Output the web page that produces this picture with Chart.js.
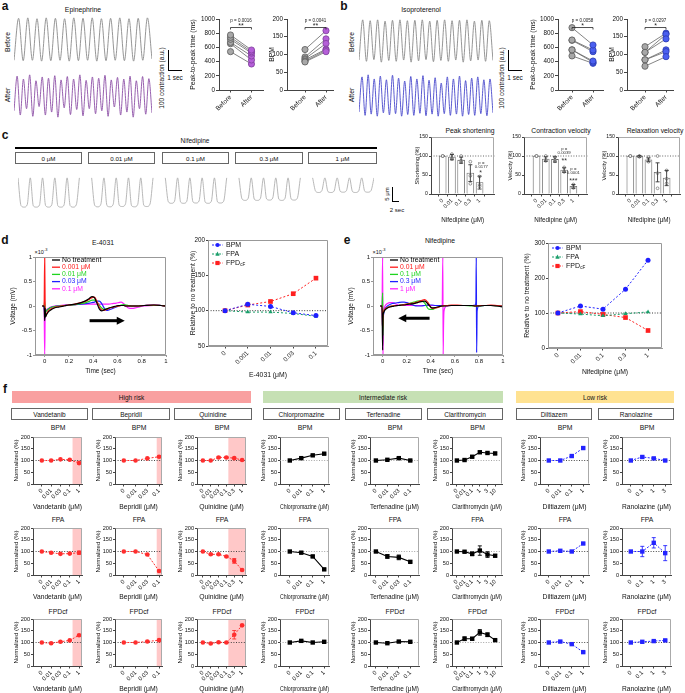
<!DOCTYPE html>
<html>
<head>
<meta charset="utf-8">
<script src="https://cdn.jsdelivr.net/npm/chart.js@4.4.0/dist/chart.umd.min.js"></script>
<style>
  body { margin: 0; width: 685px; height: 693px; position: relative; overflow: hidden; background: #fff; font-family: 'Liberation Sans', Arial, sans-serif; }
  .t { position: absolute; white-space: nowrap; color: #111; line-height: 1; }
  .blk { position: absolute; box-sizing: border-box; }
  canvas { position: absolute; }
</style>
</head>
<body>
<script>
// ---- panel a / b : contraction traces (normalised amplitude, one value per half beat) ----
const epiBeforeTrace = [0.02, 0.99, 0.01, 1.0, 0.02, 0.98, 0.0, 1.0, 0.01, 0.99, 0.02, 0.98, 0.0, 1.0, 0.01, 0.99, 0.02, 1.0, 0.0, 0.98, 0.01, 0.99, 0.02, 1.0, 0.01, 0.98, 0.0, 0.99, 0.02, 1.0, 0.05];
const epiAfterTrace = [0.15, 0.97, 0.05, 0.9, 0.2, 1.0, 0.02, 0.86, 0.25, 0.95, 0.05, 0.92, 0.12, 0.98, 0.0, 0.88, 0.22, 0.96, 0.06, 0.9, 0.18, 1.0, 0.03, 0.87, 0.2, 0.95, 0.08, 0.92, 0.15, 0.99, 0.02, 0.88, 0.24, 0.94, 0.05, 0.9, 0.12, 0.97, 0.0, 0.86, 0.2, 0.96, 0.07, 0.91, 0.1];
const isoBeforeTrace = [0.05, 1.0, 0.02, 0.98, 0.06, 1.0, 0.0, 0.97, 0.04, 0.99, 0.02, 1.0, 0.05, 0.98, 0.0, 0.99, 0.03, 1.0, 0.06, 0.97, 0.01, 0.99, 0.04, 1.0, 0.02, 0.98, 0.05, 0.99, 0.0, 1.0, 0.03, 0.97, 0.05, 0.99, 0.02, 0.98, 0.04];
const isoAfterTrace = [0.1, 0.95, 0.02, 1.0, 0.05, 0.9, 0.0, 0.97, 0.08, 0.88, 0.03, 0.99, 0.06, 0.92, 0.0, 0.85, 0.04, 0.96, 0.02, 0.9, 0.07, 0.98, 0.01, 0.87, 0.05, 0.93, 0.0, 0.8, 0.06, 0.95, 0.02, 0.9, 0.05, 0.97, 0.0, 0.86, 0.04, 0.92, 0.02, 0.95, 0.06, 0.88, 0.01, 0.9, 0.08];

// ---- panel a / b : paired values ----
const pairLabels = ['Before', 'After'];
const epiPeakBefore = [775, 742, 714, 671, 652, 540];
const epiPeakAfter = [563, 540, 520, 479, 423, 366];
const epiBpmBefore = [79, 81, 85, 88, 93, 114];
const epiBpmAfter = [108, 112, 115, 131, 144, 167];
const isoPeakBefore = [878, 704, 700, 565, 565, 480];
const isoPeakAfter = [634, 563, 540, 408, 390, 376];
const isoBpmBefore = [67, 85, 85, 106, 106, 122];
const isoBpmAfter = [94, 108, 113, 144, 157, 160];

// ---- panel c ----
const nifLabels = ['0', '0.01', '0.1', '0.3', '1'];
const nif0Trace = [0, -0.95, -1, -0.92, 0, -0.96, -1, -0.93, 0, -0.95, -1, -0.92, 0, -0.96, -1, -0.93, 0, -0.95, -1, -0.92, 0];
const nif001Trace = [0, -0.94, -0.99, -0.9, 0, -0.95, -0.99, -0.91, 0, -0.94, -0.98, -0.9, 0, -0.95, -0.99, -0.91, 0, -0.94, -0.98, -0.9, 0];
const nif01Trace = [0, -0.82, -0.87, -0.8, 0, -0.83, -0.87, -0.8, 0, -0.82, -0.86, -0.79, 0, -0.83, -0.87, -0.8, 0, -0.82, -0.86, -0.8, 0];
const nif03Trace = [0, -0.72, -0.77, -0.7, 0, -0.73, -0.77, -0.7, 0, -0.72, -0.76, -0.69, 0, -0.73, -0.77, -0.7, 0, -0.72, -0.76, -0.7, 0];
const nif1Trace = [0, -0.46, -0.5, -0.44, 0, -0.47, -0.5, -0.45, 0, -0.46, -0.49, -0.44, 0, -0.47, -0.5, -0.45, 0, -0.46, -0.49, -0.44, 0];
const shortMean = [100, 97, 89, 55, 30];
const shortErr = [0, 7, 8, 22, 17];
const shortPts = [[100, 100, 100], [105, 95, 92], [100, 88, 84], [85, 48, 27], [46, 24, 20]];
const contrMean = [100, 92, 91, 63, 20];
const contrErr = [0, 6, 7, 6, 5];
const contrPts = [[100, 100, 100], [100, 90, 87], [97, 90, 86], [70, 60, 58], [25, 18, 16]];
const relaxMean = [100, 99, 90, 57, 42];
const relaxErr = [0, 2, 5, 25, 20];
const relaxPts = [[100, 100, 100], [100, 99, 98], [97, 88, 85], [100, 55, 15], [62, 40, 28]];

// ---- panel d / e : field potentials (x10^-3 mV) ----
const timeTicks = [0, 0.2, 0.4, 0.6, 0.8, 1];
const voltTicks = [-1, -0.5, 0, 0.5, 1];
const dTime = [-0.02, -0.005, 0, 0.004, 0.008, 0.015, 0.03, 0.05, 0.08, 0.12, 0.16, 0.2, 0.25, 0.3, 0.34, 0.37, 0.39, 0.41, 0.43, 0.45, 0.47, 0.49, 0.51, 0.53, 0.56, 0.59, 0.61, 0.63, 0.65, 0.67, 0.69, 0.72, 0.76, 0.82, 0.9, 0.96, 1.0];
const dNone = [0, 0, -0.3, -0.05, -0.22, -0.18, -0.12, -0.08, -0.04, -0.02, 0.0, 0.02, 0.04, 0.07, 0.11, 0.16, 0.19, 0.17, 0.06, -0.06, -0.1, -0.08, -0.06, -0.04, -0.02, 0.0, 0.01, 0.01, 0.01, 0.0, 0.0, 0.0, 0.0, 0.01, 0.02, 0.01, 0.0];
const d0001 = [0, 0, 1.0, -0.1, -0.2, -0.16, -0.1, -0.06, -0.03, -0.01, 0.01, 0.02, 0.04, 0.07, 0.1, 0.14, 0.17, 0.18, 0.1, -0.02, -0.08, -0.09, -0.07, -0.05, -0.03, -0.01, 0.0, 0.01, 0.01, 0.0, 0.0, 0.0, 0.0, 0.01, 0.02, 0.01, 0.0];
const d001 = [0, 0, 0.1, -0.15, -0.12, -0.1, -0.06, -0.03, -0.01, 0.0, 0.01, 0.02, 0.03, 0.05, 0.07, 0.1, 0.12, 0.12, 0.08, 0.02, -0.04, -0.07, -0.06, -0.04, -0.02, -0.01, 0.0, 0.02, 0.03, 0.02, 0.01, 0.0, 0.0, 0.01, 0.01, 0.01, 0.0];
const d003 = [0, 0, -0.15, -0.1, -0.12, -0.09, -0.06, -0.03, -0.01, 0.0, 0.01, 0.02, 0.03, 0.04, 0.05, 0.06, 0.07, 0.08, 0.1, 0.1, 0.05, -0.04, -0.09, -0.08, -0.05, -0.02, 0.0, 0.01, 0.01, 0.0, 0.0, 0.0, 0.0, 0.01, 0.02, 0.01, 0.0];
const d01 = [0, 0, -1.0, -0.15, -0.1, -0.08, -0.05, -0.02, 0.0, 0.01, 0.02, 0.03, 0.03, 0.04, 0.04, 0.04, 0.04, 0.04, 0.04, 0.04, 0.04, 0.04, 0.04, 0.04, 0.05, 0.06, 0.07, 0.08, 0.05, 0.0, -0.04, -0.05, -0.03, 0.0, 0.01, 0.01, 0.0];
const eTime = [-0.02, -0.005, 0, 0.003, 0.006, 0.01, 0.02, 0.04, 0.06, 0.08, 0.1, 0.13, 0.16, 0.18, 0.2, 0.23, 0.26, 0.29, 0.32, 0.35, 0.38, 0.41, 0.44, 0.47, 0.495, 0.5, 0.503, 0.506, 0.51, 0.53, 0.57, 0.62, 0.68, 0.74, 0.77, 0.775, 0.778, 0.781, 0.785, 0.8, 0.85, 0.9, 0.95, 1.0];
const eNone = [0, 0, -0.9, -0.25, -0.15, -0.12, -0.08, -0.04, -0.02, -0.01, 0.0, 0.01, 0.02, 0.02, 0.03, 0.04, 0.05, 0.07, 0.09, 0.1, 0.03, -0.04, -0.03, -0.01, 0, 0, 0, 0, 0, 0, 0.01, 0.01, 0.01, 0.01, 0, 0, 0, 0, 0, 0, 0.01, 0.01, 0, -0.02];
const e001 = [0, 0, -0.5, -0.2, -0.14, -0.1, -0.06, -0.03, -0.01, 0, 0.01, 0.01, 0.02, 0.03, 0.04, 0.05, 0.06, 0.08, 0.11, 0.13, 0.06, -0.05, -0.04, -0.02, 0, 0, 0.01, 0.01, 0.01, 0.01, 0.02, 0.02, 0.01, 0.01, 0, 0, 0, 0, 0, 0.01, 0.01, 0.02, 0.01, 0];
const e01 = [0, 0, 0.27, -0.6, -0.2, -0.12, -0.07, -0.03, -0.01, 0, 0.01, 0.01, 0.02, 0.03, 0.04, 0.06, 0.08, 0.1, 0.11, 0.06, -0.06, -0.07, -0.04, -0.02, 0, 0, 0, 0, 0, 0.01, 0.01, 0.01, 0.01, 0, 0, 0, 0, 0, 0, 0, 0.01, 0.01, 0, 0];
const e03 = [0, 0, -0.5, -0.3, -0.2, -0.14, -0.06, 0, 0.03, 0.05, 0.06, 0.07, 0.08, 0.08, 0.07, 0.04, 0.01, 0, 0, 0.01, 0.02, 0.02, 0.01, 0.01, 0.01, 0.01, 0.01, 0.01, 0.01, 0.01, 0.01, 0.01, 0.01, 0.01, 0.02, 0.1, 1.0, -0.95, -0.1, 0, 0.01, 0.01, 0.01, 0];
const e1 = [0, 0, 1.0, -1.0, -0.3, -0.1, 0, 0.05, 0.07, 0.07, 0.05, 0.02, 0.01, 0.01, 0.01, 0.01, 0.01, 0.01, 0.01, 0.01, 0.01, 0.01, 0.01, 0.01, 0.01, 1.0, -1.0, -0.4, -0.1, 0, 0.01, 0.01, 0.01, 0.01, 0.01, 0.01, 0.01, 0.01, 0.01, 0.01, 0.01, 0.01, 0, 0];
const e4031Labels = ['0', '0.001', '0.01', '0.03', '0.1'];
const e4031Bpm = [100, 109, 106, 97, 93];
const e4031Fpa = [100, 98, 98, 96, 92];
const e4031Fpd = [100, 108, 113, 124, 146];
const nifBpm = [100, 120, 111, 168, 251];
const nifFpa = [100, 97, 92, 98, 103];
const nifFpd = [100, 104, 96, 87, 50];

// ---- panel f ----
const riskNames = ['High risk', 'Intermediate risk', 'Low risk'];
const drugNames = ['Vandetanib', 'Bepridil', 'Quinidine', 'Chlorpromazine', 'Terfenadine', 'Clarithromycin', 'Diltiazem', 'Ranolazine'];
const drugRisk = [0, 0, 0, 1, 1, 1, 2, 2];
const drugDoses = [
  ['0', '0.01', '0.03', '0.1', '1'],
  ['0', '0.01', '0.03', '0.1'],
  ['0', '0.01', '0.03', '0.1', '0.3', '1'],
  ['0', '0.01', '0.1', '1'],
  ['0', '0.01', '0.03', '0.1'],
  ['0', '0.01', '0.1', '1', '3', '10'],
  ['0', '0.01', '0.1', '1'],
  ['0', '0.1', '1', '3']
];
const shadeFrom = [3.3, 2.8, 3.25, null, null, null, null, null];
const bpmValues = [[100, 100, 105, 103, 89], [100, 100, 109, 116], [100, 100, 113, 113, 110, 102], [100, 110, 122, 129], [100, 103, 110, 100], [100, 102, 116, 135, 132, 130], [100, 100, 119, 153], [100, 115, 109, 100]];
const bpmErr = [[0, 0, 0, 0, 4], [0, 0, 0, 3], [0, 0, 4, 4, 3, 2], [0, 3, 3, 3], [0, 3, 3, 2], [0, 3, 4, 5, 4, 5], [0, 0, 4, 4], [0, 4, 3, 2]];
const fpaValues = [[100, 95, 90, 91, 95], [100, 100, 87, 17], [100, 88, 88, 79, 60, 21], [100, 95, 79, 24], [100, 79, 75, 56], [100, 99, 90, 104, 87, 82], [100, 103, 100, 134], [100, 100, 137, 93]];
const fpaErr = [[0, 2, 2, 2, 7], [0, 0, 2, 3], [0, 3, 3, 3, 10, 3], [0, 4, 5, 3], [0, 8, 10, 4], [0, 3, 8, 20, 12, 5], [0, 2, 2, 3], [0, 22, 22, 32]];
const fpdValues = [[100, 97, 103, 109, 131], [100, 100, 104, 110], [100, 96, 101, 100, 133, 173], [100, 107, 100, 103], [100, 97, 104, 103], [100, 116, 116, 143, 133, 110], [100, 104, 93, 59], [100, 103, 106, 109]];
const fpdErr = [[0, 0, 2, 2, 3], [0, 0, 2, 3], [0, 2, 2, 2, 18, 3], [0, 3, 2, 3], [0, 2, 3, 3], [0, 8, 6, 12, 8, 4], [0, 2, 2, 3], [0, 2, 2, 3]];

// ---------------------------------------------------------------
const FONT = "'Liberation Sans', Arial, Helvetica, sans-serif";
Chart.defaults.font.family = FONT;
Chart.defaults.font.size = 6.5;
Chart.defaults.color = '#111';
Chart.defaults.animation = false;
Chart.defaults.responsive = false;
Chart.defaults.plugins.legend.display = false;
Chart.defaults.plugins.tooltip.enabled = false;

function put(html, cx, cy, size, rot, weight) {
  const d = document.createElement('div');
  d.className = 't';
  d.innerHTML = html;
  d.style.left = cx + 'px';
  d.style.top = cy + 'px';
  d.style.fontSize = size + 'px';
  if (weight) d.style.fontWeight = weight;
  d.style.transform = 'translate(-50%,-50%)' + (rot ? ' rotate(' + rot + 'deg)' : '');
  document.body.appendChild(d);
  return d;
}

function blk(x, y, w, h, css) {
  const d = document.createElement('div');
  d.className = 'blk';
  d.style.cssText = `left:${x}px;top:${y}px;width:${w}px;height:${h}px;` + (css || '');
  document.body.appendChild(d);
  return d;
}

function labelBox(text, x0, x1, y, h, css, size) {
  const d = blk(x0, y, x1 - x0, h, css + `display:flex;align-items:center;justify-content:center;font-size:${size}px;color:#111;`);
  d.textContent = text;
}

function marker(ctx, kind, x, y, r, color) {
  ctx.fillStyle = color;
  ctx.beginPath();
  if (kind === 'circle') ctx.arc(x, y, r, 0, Math.PI * 2);
  else if (kind === 'rect') ctx.rect(x - r, y - r, 2 * r, 2 * r);
  else { ctx.moveTo(x, y - r * 1.2); ctx.lineTo(x + r, y + r * 0.8); ctx.lineTo(x - r, y + r * 0.8); ctx.closePath(); }
  ctx.fill();
}

// shading, reference line, error bars, frame, notes, arrows and legends
const extras = {
  id: 'extras',
  beforeDatasetsDraw(chart) {
    const o = chart.config.options.plugins.extras;
    if (!o) return;
    const ctx = chart.ctx, a = chart.chartArea, xs = chart.scales.x, ys = chart.scales.y;
    ctx.save();
    if (o.shadeFrom != null) {
      const x0 = xs.getPixelForValue(o.shadeFrom);
      ctx.fillStyle = '#ffc8c8';
      ctx.fillRect(x0, a.top, a.right - x0, a.bottom - a.top);
    }
    if (o.refY != null) {
      const y = ys.getPixelForValue(o.refY);
      ctx.strokeStyle = o.refColor || '#333';
      ctx.lineWidth = 0.9;
      ctx.setLineDash([1, 1.6]);
      ctx.beginPath(); ctx.moveTo(a.left, y); ctx.lineTo(a.right, y); ctx.stroke();
    }
    ctx.restore();
  },
  afterDatasetsDraw(chart) {
    const o = chart.config.options.plugins.extras || {};
    const ctx = chart.ctx, a = chart.chartArea, xs = chart.scales.x, ys = chart.scales.y;
    ctx.save();
    ctx.setLineDash([]);
    chart.data.datasets.forEach((ds, i) => {
      if (!ds.err) return;
      const meta = chart.getDatasetMeta(i);
      ctx.strokeStyle = ds.errColor || ds.borderColor;
      ctx.lineWidth = 0.9;
      meta.data.forEach((el, j) => {
        const e = ds.err[j];
        if (!e) return;
        const v = ds.data[j].y;
        const y0 = ys.getPixelForValue(v - e), y1 = ys.getPixelForValue(v + e);
        ctx.beginPath();
        ctx.moveTo(el.x, y0); ctx.lineTo(el.x, y1);
        ctx.moveTo(el.x - 2, y0); ctx.lineTo(el.x + 2, y0);
        ctx.moveTo(el.x - 2, y1); ctx.lineTo(el.x + 2, y1);
        ctx.stroke();
      });
    });
    if (o.frame) {
      ctx.strokeStyle = o.frame;
      ctx.lineWidth = 1;
      const L = Math.round(a.left) + 0.5, R = Math.round(a.right) - 0.5, T = Math.round(a.top) + 0.5, B = Math.round(a.bottom) - 0.5;
      ctx.beginPath();
      if (o.frameAll) ctx.rect(L, T, R - L, B - T);
      else { ctx.moveTo(L, T); ctx.lineTo(R, T); ctx.lineTo(R, B); }
      ctx.stroke();
    }
    if (o.sig) {
      const s = o.sig;
      const x0 = xs.getPixelForValue(0), x1 = xs.getPixelForValue(1), y = ys.getPixelForValue(s.y);
      ctx.strokeStyle = '#222'; ctx.lineWidth = 0.8;
      ctx.beginPath(); ctx.moveTo(x0, y + 2); ctx.lineTo(x0, y); ctx.lineTo(x1, y); ctx.lineTo(x1, y + 2); ctx.stroke();
      ctx.fillStyle = '#222'; ctx.textAlign = 'center'; ctx.textBaseline = 'middle';
      ctx.font = `7px ${FONT}`; ctx.fillText(s.stars, (x0 + x1) / 2, y - 1.5);
      ctx.font = `4.5px ${FONT}`; ctx.fillText(s.p, (x0 + x1) / 2, y - 7);
    }
    (o.notes || []).forEach(n => {
      ctx.font = `${n.size}px ${FONT}`; ctx.fillStyle = '#333';
      ctx.textAlign = 'center'; ctx.textBaseline = 'middle';
      ctx.fillText(n.text, xs.getPixelForValue(n.x), ys.getPixelForValue(n.y));
    });
    if (o.arrow) {
      const [t0, t1, v] = o.arrow;
      const x0 = xs.getPixelForValue(t0), x1 = xs.getPixelForValue(t1), y = ys.getPixelForValue(v);
      const dir = Math.sign(x1 - x0);
      ctx.strokeStyle = '#000'; ctx.fillStyle = '#000'; ctx.lineWidth = 3;
      ctx.beginPath(); ctx.moveTo(x0, y); ctx.lineTo(x1 - dir * 6, y); ctx.stroke();
      ctx.beginPath(); ctx.moveTo(x1, y); ctx.lineTo(x1 - dir * 8, y - 4); ctx.lineTo(x1 - dir * 8, y + 4); ctx.closePath(); ctx.fill();
    }
    if (o.legend) {
      const L = o.legend;
      L.items.forEach((it, k) => {
        const y = a.top + L.dy + k * L.step;
        const x0 = a.left + L.dx, x1 = x0 + L.len;
        ctx.strokeStyle = it.color; ctx.lineWidth = it.width || 1; ctx.setLineDash(it.dash || []);
        ctx.beginPath(); ctx.moveTo(x0, y); ctx.lineTo(x1, y); ctx.stroke();
        ctx.setLineDash([]);
        if (it.marker) marker(ctx, it.marker, (x0 + x1) / 2, y, 2.1, it.color);
        ctx.fillStyle = it.textColor || '#111'; ctx.textAlign = 'left'; ctx.textBaseline = 'middle';
        ctx.font = `${L.size}px ${FONT}`;
        const tx = x1 + L.gap;
        ctx.fillText(it.text, tx, y);
        if (it.sub) {
          const w = ctx.measureText(it.text).width;
          ctx.font = `${L.size * 0.65}px ${FONT}`;
          ctx.fillText(it.sub, tx + w + 0.3, y + 2.2);
        }
      });
    }
    ctx.restore();
  }
};
Chart.register(extras);

function zeroPad(s) { s.paddingLeft = 0; s.paddingRight = 0; s.paddingTop = 0; s.paddingBottom = 0; }

// box = [x, y, w, h] of the canvas, plot = [left, top, right, bottom] of the plot area (page px)
function makeChart(box, plot, cfg) {
  const cv = document.createElement('canvas');
  cv.width = box[2]; cv.height = box[3];
  cv.style.left = box[0] + 'px'; cv.style.top = box[1] + 'px';
  document.body.appendChild(cv);
  const yW = plot[0] - box[0];
  const xH = box[1] + box[3] - plot[3];
  const o = cfg.options;
  o.layout = { padding: { left: 0, bottom: 0, top: plot[1] - box[1], right: box[0] + box[2] - plot[2] } };
  o.scales.x.afterFit = s => { s.height = xH; zeroPad(s); };
  o.scales.y.afterFit = s => { s.width = yW; zeroPad(s); };
  return new Chart(cv, cfg);
}

function idxAxis(min, max, labels, title, size, titleSize) {
  return {
    type: 'linear', min, max,
    border: { color: '#444', width: 1 },
    grid: { drawOnChartArea: false, tickLength: 2.5, color: '#444' },
    afterBuildTicks: s => { s.ticks = labels.map((_, i) => ({ value: i })); },
    ticks: { autoSkip: false, minRotation: 45, maxRotation: 45, padding: 1, font: { size }, callback: v => labels[v] },
    title: { display: !!title, text: title || '', padding: 0, font: { size: titleSize || size + 0.5 } }
  };
}

function numAxis(min, max, step, title, size, tickList, tickLen) {
  const ax = {
    type: 'linear', min, max,
    border: { color: '#444', width: 1 },
    grid: { drawOnChartArea: false, tickLength: tickLen || 2, color: '#444' },
    ticks: { stepSize: step, padding: 1, font: { size }, maxRotation: 0, callback: v => String(v) },
    title: { display: !!title, text: title || '', padding: 0, font: { size: size + 0.5 } }
  };
  if (tickList) ax.afterBuildTicks = s => { s.ticks = tickList.map(v => ({ value: v })); };
  return ax;
}

function traceChart(box, values, color, yMin, yMax) {
  makeChart(box, [box[0], box[1], box[0] + box[2], box[1] + box[3]], {
    type: 'line',
    data: { datasets: [{ data: values.map((v, i) => ({ x: i, y: v })), borderColor: color, borderWidth: 0.9, pointRadius: 0, cubicInterpolationMode: 'monotone', spanGaps: false }] },
    options: { scales: { x: { type: 'linear', display: false, min: 0, max: values.length - 1 }, y: { display: false, min: yMin, max: yMax } } }
  });
}

function pairedChart(box, plot, xmin, xmax, before, after, ymax, ystep, yTitle, fill, edge, sig) {
  makeChart(box, plot, {
    type: 'line',
    data: {
      datasets: before.map((b, i) => ({
        data: [{ x: 0, y: b }, { x: 1, y: after[i] }],
        borderColor: '#666', borderWidth: 0.8, pointRadius: 3.1, pointBorderWidth: 0.8,
        pointBackgroundColor: ['#a8a8a8', fill], pointBorderColor: ['#5a5a5a', edge]
      }))
    },
    options: {
      scales: { x: idxAxis(xmin, xmax, pairLabels, '', 6.5), y: numAxis(0, ymax, ystep, yTitle, 6.3, null, 3) },
      plugins: { extras: { sig } }
    }
  });
}

function barChart(box, plot, xmin, xmax, means, errs, pts, yTitle, notes) {
  makeChart(box, plot, {
    type: 'bar',
    data: {
      datasets: [
        { type: 'scatter', data: pts.flatMap((arr, i) => arr.map(v => ({ x: i, y: v }))), pointRadius: 1.4, pointBorderWidth: 0.6, pointBackgroundColor: '#fff', pointBorderColor: '#555' },
        { type: 'bar', data: means.map((v, i) => ({ x: i, y: v })), err: errs, errColor: '#333', backgroundColor: '#fff', borderColor: '#666', borderWidth: 0.8, barThickness: 7 }
      ]
    },
    options: {
      scales: { x: idxAxis(xmin, xmax, nifLabels, 'Nifedipine (μM)', 5.5, 6.3), y: numAxis(0, 150, 50, yTitle, 5.2) },
      plugins: { extras: { frame: '#aaa', refY: 100, refColor: '#555', notes } }
    }
  });
}

function voltChart(box, plot, times, series, names, arrow, legendDx) {
  const colors = ['#000', '#ff1a1a', '#1fd41f', '#1f1fff', '#ff1fff'];
  const x = numAxis(-0.08, 1, 0.2, 'Time (sec)', 6, timeTicks);
  const y = numAxis(-1, 1, 0.5, 'Voltage (mV)', 6, voltTicks);
  x.border.color = '#999'; y.border.color = '#999';
  x.grid.color = '#999'; y.grid.color = '#999';
  makeChart(box, plot, {
    type: 'line',
    data: { datasets: series.map((vals, k) => ({ data: vals.map((v, i) => ({ x: times[i], y: v })), borderColor: colors[k], borderWidth: 1.2, pointRadius: 0, cubicInterpolationMode: 'monotone' })) },
    options: {
      scales: { x, y },
      plugins: { extras: {
        frame: '#999', frameAll: true, arrow,
        legend: { dx: legendDx, dy: 3, step: 7.2, len: 8, gap: 2, size: 6.8, items: names.map((n, k) => ({ text: n, color: colors[k], textColor: colors[k], width: 1.3 })) }
      } }
    }
  });
}

function relChart(box, plot, xmin, xmax, labels, xTitle, ymin, ymax, ystep, bpm, fpa, fpd) {
  const mk = (vals, color, style, r) => ({ data: vals.map((v, i) => ({ x: i, y: v })), borderColor: color, backgroundColor: color, pointBackgroundColor: color, pointBorderColor: color, borderWidth: 1, borderDash: [2, 2], pointStyle: style, pointRadius: r, pointBorderWidth: 0 });
  const x = idxAxis(xmin, xmax, labels, xTitle, 6.3);
  const y = numAxis(ymin, ymax, ystep, 'Relative to no treatment (%)', 6.3);
  x.border.color = '#999'; y.border.color = '#999';
  makeChart(box, plot, {
    type: 'line',
    data: { datasets: [mk(bpm, '#1f1fff', 'circle', 2.5), mk(fpa, '#1a9e6a', 'triangle', 2.5), mk(fpd, '#ff1f1f', 'rect', 3.3)] },
    options: {
      scales: { x, y },
      plugins: { extras: {
        frame: '#999', frameAll: true, refY: 100, refColor: '#222',
        legend: { dx: 4, dy: 5, step: 9, len: 11, gap: 3, size: 7, items: [
          { text: 'BPM', color: '#1f1fff', marker: 'circle', dash: [2, 1.5] },
          { text: 'FPA', color: '#1a9e6a', marker: 'triangle', dash: [2, 1.5] },
          { text: 'FPD', sub: 'cF', color: '#ff1f1f', marker: 'rect', dash: [2, 1.5] }
        ] }
      } }
    }
  });
}

// ---------------- panel letters ----------------
put('a', 5, 6, 12, 0, 'bold');
put('b', 344, 6, 12, 0, 'bold');
put('c', 5, 135, 12, 0, 'bold');
put('d', 5, 240, 12, 0, 'bold');
put('e', 347, 240, 12, 0, 'bold');
put('f', 5, 389, 12, 0, 'bold');

// ---------------- panel a ----------------
put('Epinephrine', 83, 10, 6.8);
put('Before', 8, 42, 6.8, -90);
put('After', 8, 95, 6.8, -90);
traceChart([14, 17, 138, 45], epiBeforeTrace, '#8a8a8a', -0.02, 1.02);
traceChart([14, 74, 138, 44], epiAfterTrace, '#8c4fa6', -0.02, 1.02);
put('100 contraction (a.u.)', 162, 78, 6.5, -90);
blk(168, 50, 14, 21, 'border-left:1.2px solid #000;border-bottom:1.2px solid #000;');
put('1 sec', 175, 78, 6.5);
pairedChart([189, 8, 79, 112], [219, 19, 263, 90], -0.55, 1.55, epiPeakBefore, epiPeakAfter, 1000, 200, 'Peak-to-peak time (ms)', '#b55fd8', '#7d3d9b', { y: 880, p: 'p = 0.0016', stars: '**' });
pairedChart([268, 8, 70, 112], [287, 19, 333, 90], -0.857, 1.333, epiBpmBefore, epiBpmAfter, 200, 50, 'BPM', '#b55fd8', '#7d3d9b', { y: 176, p: 'p = 0.0041', stars: '**' });

// ---------------- panel b ----------------
put('Isoproterenol', 421, 10, 6.8);
put('Before', 352, 42, 6.8, -90);
put('After', 352, 95, 6.8, -90);
traceChart([359, 19, 134, 44], isoBeforeTrace, '#8a8a8a', -0.02, 1.02);
traceChart([359, 74, 134, 43], isoAfterTrace, '#4848cc', -0.02, 1.02);
put('100 contraction (a.u.)', 502, 78, 6.5, -90);
blk(508, 50, 14, 21, 'border-left:1.2px solid #000;border-bottom:1.2px solid #000;');
put('1 sec', 515, 78, 6.5);
pairedChart([529, 8, 79, 112], [558, 19, 603, 90], -0.667, 1.476, isoPeakBefore, isoPeakAfter, 1000, 200, 'Peak-to-peak time (ms)', '#4a5ff0', '#2a3ab0', { y: 880, p: 'p = 0.0058', stars: '*' });
pairedChart([608, 8, 74, 112], [627, 19, 673, 90], -0.857, 1.333, isoBpmBefore, isoBpmAfter, 200, 50, 'BPM', '#4a5ff0', '#2a3ab0', { y: 176, p: 'p = 0.0297', stars: '*' });

// ---------------- panel c ----------------
put('Nifedipine', 195, 141, 6.5);
blk(15, 147, 362, 1.6, 'background:#000;');
[[15, 82], [88, 155], [162, 229], [235, 303], [308, 377]].forEach((r, i) => labelBox(nifLabels[i] + ' μM', r[0], r[1], 152, 12, 'border:1px solid #666;', 6.2));
const nifTrace = [];
[nif0Trace, nif001Trace, nif01Trace, nif03Trace, nif1Trace].forEach((g, k) => {
  if (k) nifTrace.push(null, null, null);
  nifTrace.push(...g);
});
traceChart([18, 177, 356, 31], nifTrace, '#b0b0b0', -1.03, 0.03);
put('5 μm', 387, 194, 6, -90);
blk(392, 187, 7, 15, 'border-left:1.2px solid #000;border-bottom:1.2px solid #000;');
put('2 sec', 397, 210, 6);
put('Peak shortening', 470, 131, 6.8);
put('Contraction velocity', 561, 131, 6.8);
put('Relaxation velocity', 655, 131, 6.8);
barChart([414, 128, 85, 96], [431, 137, 497, 194], -0.58, 4.92, shortMean, shortErr, shortPts, 'Shortening (%)',
  [{ x: 4.2, y: 83, text: 'p =', size: 4.3 }, { x: 4.2, y: 72, text: '0.0177', size: 4.3 }, { x: 4.1, y: 55, text: '*', size: 7 }]);
barChart([507, 128, 85, 96], [524, 137, 590, 194], -0.67, 4.83, contrMean, contrErr, contrPts, 'Velocity (%)',
  [{ x: 3, y: 119, text: 'p =', size: 4.3 }, { x: 3, y: 108, text: '0.0039', size: 4.3 }, { x: 3, y: 86, text: '**', size: 7 },
   { x: 4, y: 66, text: 'p =', size: 4.3 }, { x: 4, y: 55, text: '0.0001', size: 4.3 }, { x: 4, y: 34, text: '***', size: 7 }]);
barChart([601, 128, 84, 96], [618, 137, 684, 194], -0.67, 4.83, relaxMean, relaxErr, relaxPts, 'Velocity (%)', []);

// ---------------- panel d ----------------
put('E-4031', 103, 243, 6.8);
put('×10<sup style="font-size:4px">-3</sup>', 41, 252, 5.5);
voltChart([9, 250, 162, 125], [35, 257, 166, 355], dTime, [dNone, d0001, d001, d003, d01],
  ['No treatment', '0.001 μM', '0.01 μM', '0.03 μM', '0.1 μM'], [0.37, 0.66, -0.3], 17);
relChart([189, 233, 143, 146], [208, 240, 328, 346], -0.75, 4.53, e4031Labels, 'E-4031 (μM)', 50, 200, 50, e4031Bpm, e4031Fpa, e4031Fpd);

// ---------------- panel e ----------------
put('Nifedipine', 440, 241, 6.8);
put('×10<sup style="font-size:4px">-3</sup>', 379, 252, 5.5);
voltChart([347, 250, 161, 125], [373, 257, 503, 355], eTime, [eNone, e001, e01, e03, e1],
  ['No treatment', '0.01 μM', '0.1 μM', '0.3 μM', '1 μM'], [0.39, 0.13, -0.25], 17);
relChart([523, 236, 143, 140], [548, 243, 662, 348], -0.44, 4.62, nifLabels, 'Nifedipine (μM)', 0, 300, 100, nifBpm, nifFpa, nifFpd);

// ---------------- panel f ----------------
[[12, 251, '#f9a0a0'], [263, 503, '#c6e0b4'], [516, 674, '#ffe291']].forEach((r, i) => labelBox(riskNames[i], r[0], r[1], 391, 12, `background:${r[2]};`, 6.5));
const colPlot = [[33, 83], [115, 163], [197, 247], [280, 330], [370, 420], [452, 503], [540, 590], [622, 672]];
const colFirst = [42, 124, 203, 290, 376, 457, 549, 631];
const colStep = [9.5, 12, 8, 11.7, 11.7, 7.8, 11.7, 11.7];
const colBox = [[11, 88], [92, 170], [174, 252], [263, 340], [345, 422], [427, 503], [516, 592], [598, 674]];
const rowPlot = [[437, 484], [528, 575], [619, 666]];
const rowTitleY = [428, 520, 612];
const rowXLabelY = [507, 597, 689];
const metricNames = ['BPM', 'FPA', 'FPDcf'];
const metricValues = [bpmValues, fpaValues, fpdValues];
const metricErr = [bpmErr, fpaErr, fpdErr];

drugNames.forEach((name, c) => {
  labelBox(name, colBox[c][0], colBox[c][1], 408, 12, 'border:1px solid #666;', 6.5);
  const [l, r] = colPlot[c];
  const min = -(colFirst[c] - l) / colStep[c];
  const max = min + (r - l) / colStep[c];
  const risk = drugRisk[c];
  const col = risk === 0 ? '#ff2e2e' : risk === 1 ? '#000' : '#2424ff';
  metricValues.forEach((vals, m) => {
    const [t, b] = rowPlot[m];
    put(metricNames[m], (l + r) / 2, rowTitleY[m], 6.8);
    const top = t - 6, bottom = Math.round(rowXLabelY[m] + 4);
    makeChart([l - 20, top, r - l + 23, bottom - top], [l, t, r, b], {
      type: 'line',
      data: { datasets: [{
        data: vals[c].map((v, i) => ({ x: i, y: v })), err: metricErr[m][c],
        borderColor: col, backgroundColor: col, pointBackgroundColor: col, pointBorderColor: col,
        borderWidth: risk === 1 ? 1.1 : 1, borderDash: risk === 1 ? [] : [2, 1.5],
        pointStyle: risk === 0 ? 'circle' : 'rect', pointRadius: risk === 0 ? 2.3 : 3.1, pointBorderWidth: 0
      }] },
      options: {
        scales: { x: idxAxis(min, max, drugDoses[c], name + ' (μM)', 5.8, 6.8), y: numAxis(0, 200, 50, 'Normalized (%)', 5.6) },
        plugins: { extras: { frame: '#aaa', refY: 100, refColor: risk === 1 ? '#999' : '#333', shadeFrom: shadeFrom[c] } }
      }
    });
  });
});
</script>
</body>
</html>
